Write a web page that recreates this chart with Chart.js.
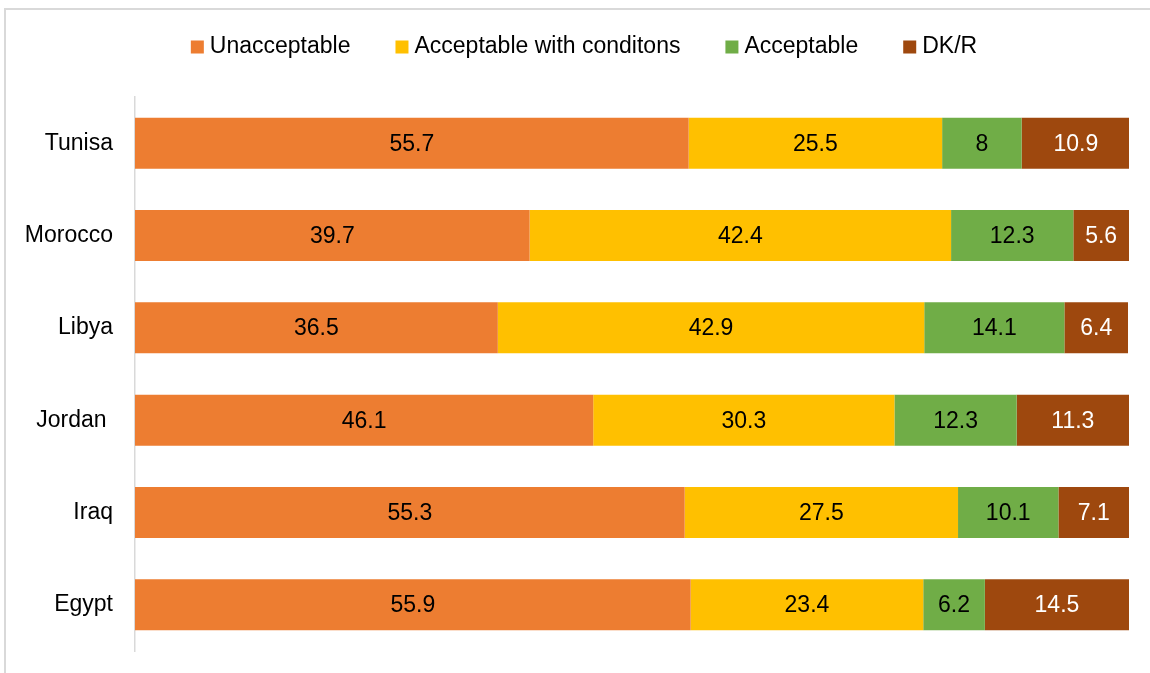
<!DOCTYPE html>
<html>
<head>
<meta charset="utf-8">
<script src="https://cdn.jsdelivr.net/npm/chart.js@4"></script>
<style>
  html, body { margin: 0; padding: 0; background: #fff; }
  #wrap { position: relative; width: 1150px; height: 673px; overflow: hidden; }
  #frame {
    position: absolute; left: 4px; top: 8px; width: 1300px; height: 800px;
    border-top: 2px solid #d9d9d9; border-left: 2px solid #d9d9d9;
  }
  #chart { position: absolute; left: 0; top: 0; }
</style>
</head>
<body>
<div id="wrap">
  <div id="frame"></div>
  <canvas id="chart" width="1150" height="673"></canvas>
</div>
<script>
/* ===== data ===== */
const countries = ["Tunisa", "Morocco", "Libya", "Jordan ", "Iraq", "Egypt"];
const seriesNames = ["Unacceptable", "Acceptable with conditons", "Acceptable", "DK/R"];
const unacceptable = [55.7, 39.7, 36.5, 46.1, 55.3, 55.9];
const withConditions = [25.5, 42.4, 42.9, 30.3, 27.5, 23.4];
const acceptable = [8, 12.3, 14.1, 12.3, 10.1, 6.2];
const dkr = [10.9, 5.6, 6.4, 11.3, 7.1, 14.5];

const colors = ["#ED7D31", "#FFC000", "#70AD47", "#9E480E"];
const labelColors = ["#000000", "#000000", "#000000", "#ffffff"];
const FONT = "Liberation Sans, Arial, sans-serif";

/* ===== labels inside bars ===== */
const barLabels = {
  id: "barLabels",
  afterDatasetsDraw(chart) {
    const ctx = chart.ctx;
    ctx.save();
    ctx.font = `23px ${FONT}`;
    ctx.textAlign = "center";
    ctx.textBaseline = "middle";
    chart.data.datasets.forEach((ds, i) => {
      const meta = chart.getDatasetMeta(i);
      ctx.fillStyle = labelColors[i];
      meta.data.forEach((bar, j) => {
        const p = bar.getProps(["x", "base", "y"], true);
        ctx.fillText(String(ds.data[j]), (p.x + p.base) / 2, p.y + 1);
      });
    });
    ctx.restore();
  },
};

/* ===== legend (square boxes, tight gap) ===== */
const topLegend = {
  id: "topLegend",
  afterDraw(chart) {
    const ctx = chart.ctx;
    const box = 13, gapText = 6, gapItem = 45, cy = 47, cx = 584;
    ctx.save();
    ctx.font = `23px ${FONT}`;
    ctx.textBaseline = "middle";
    const items = chart.data.datasets.map((ds) => ({
      text: ds.label,
      color: ds.backgroundColor,
      w: ctx.measureText(ds.label).width,
    }));
    let total = 0;
    items.forEach((it, i) => {
      total += box + gapText + it.w + (i < items.length - 1 ? gapItem : 0);
    });
    let x = cx - total / 2;
    items.forEach((it) => {
      ctx.fillStyle = it.color;
      ctx.fillRect(x, cy - box / 2, box, box);
      ctx.fillStyle = "#000";
      ctx.fillText(it.text, x + box + gapText, cy);
      x += box + gapText + it.w + gapItem;
    });
    ctx.restore();
  },
};

const seriesData = [unacceptable, withConditions, acceptable, dkr];

new Chart(document.getElementById("chart"), {
  type: "bar",
  data: {
    labels: countries,
    datasets: seriesNames.map((name, i) => ({
      label: name,
      data: seriesData[i],
      backgroundColor: colors[i],
      borderWidth: 0,
      barPercentage: 0.553,
      categoryPercentage: 1,
    })),
  },
  options: {
    indexAxis: "y",
    responsive: false,
    animation: false,
    layout: {
      padding: { left: 0, right: 21, top: 97, bottom: 22 },
    },
    scales: {
      x: {
        stacked: true,
        display: false,
        min: 0,
        max: 100,
      },
      y: {
        stacked: true,
        grid: { display: false, drawTicks: false },
        border: { color: "#d9d9d9", width: 1.5 },
        ticks: {
          padding: 22,
          color: "#000",
          font: { size: 23, family: FONT },
        },
        afterFit: (scale) => {
          // fixed axis width, no extra label padding top/bottom
          scale.width = 135;
          scale.paddingTop = 0;
          scale.paddingBottom = 0;
        },
      },
    },
    plugins: {
      legend: { display: false },
      tooltip: { enabled: false },
    },
  },
  plugins: [barLabels, topLegend],
});
</script>
</body>
</html>
